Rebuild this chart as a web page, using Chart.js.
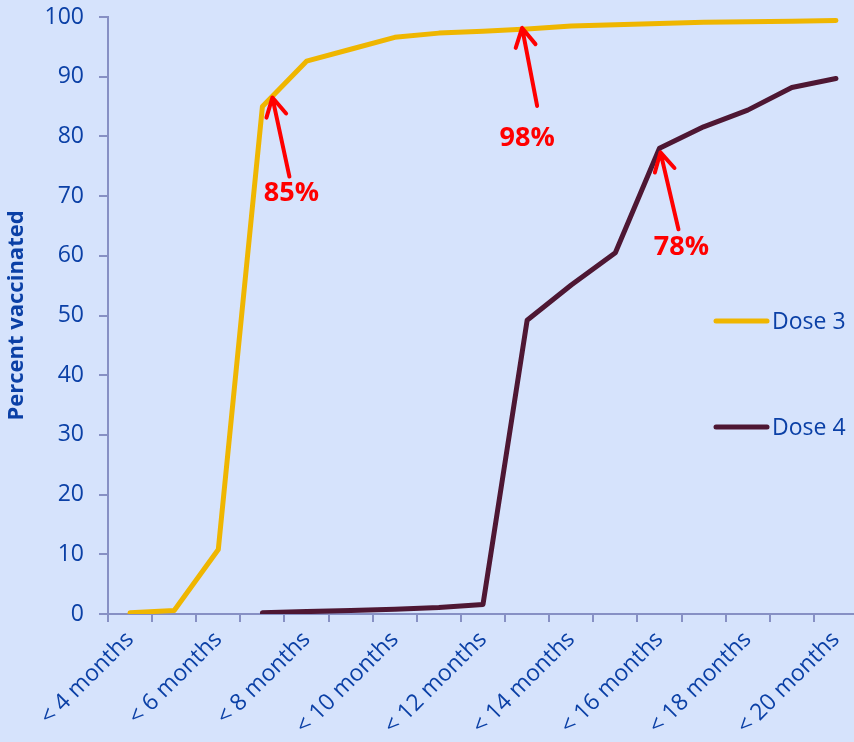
<!DOCTYPE html>
<html>
<head>
<meta charset="utf-8">
<script src="https://cdn.jsdelivr.net/npm/chart.js@4/dist/chart.umd.min.js"></script>
<style>
  html, body { margin: 0; padding: 0; overflow: hidden; background: #d6e3fc; }
  #wrap { position: relative; width: 862px; height: 742px; }
</style>
</head>
<body>
<div id="wrap"><canvas id="c" width="862" height="742"></canvas></div>
<script>
// Age groups (one per month of age)
const months = [
  '< 4 months', '< 5 months', '< 6 months', '< 7 months', '< 8 months',
  '< 9 months', '< 10 months', '< 11 months', '< 12 months', '< 13 months',
  '< 14 months', '< 15 months', '< 16 months', '< 17 months', '< 18 months',
  '< 19 months', '< 20 months'
];

// Cumulative percent vaccinated
const dose3 = [0.2, 0.6, 10.8, 85, 92.6, 94.6, 96.6, 97.3, 97.6, 98, 98.5, 98.7, 98.9, 99.1, 99.2, 99.3, 99.4];
const dose4 = [null, null, null, 0.2, 0.4, 0.6, 0.8, 1.1, 1.6, 49.2, 55.1, 60.5, 78, 81.6, 84.4, 88.2, 89.7];

const seriesNames = ['Dose 3', 'Dose 4'];
const yTicks = [0, 10, 20, 30, 40, 50, 60, 70, 80, 90, 100];

// Callouts: which series / which age group, and the text shown
const calloutSeries = [0, 0, 1];
const calloutIndex = [3, 9, 12];
const calloutText = ['85%', '98%', '78%'];

// Styling
const BG = '#d6e3fc';
const TEXT = '#0b40a6';
const AXIS = '#8790c4';
const GOLD = '#efb600';
const MAROON = '#4e1733';
const RED = '#ff0000';
const FONT = "'Open Sans', 'DejaVu Sans', sans-serif";

// Arrow geometry relative to the pointed-at vertex: tip, tail, label centre
const calloutLayout = [
  { tip: [10, -9], tail: [27, 70], label: [29, 87] },
  { tip: [-5, -1], tail: [10, 77], label: [0, 109] },
  { tip: [1, 4], tail: [19, 81], label: [22, 99] }
];

const backgroundPlugin = {
  id: 'bg',
  beforeDraw(chart) {
    const ctx = chart.ctx;
    ctx.save();
    ctx.fillStyle = BG;
    ctx.fillRect(0, 0, chart.width, chart.height);
    ctx.restore();
  }
};

const calloutPlugin = {
  id: 'callouts',
  afterDatasetsDraw(chart) {
    const ctx = chart.ctx;
    const xs = chart.scales.x, ys = chart.scales.y;
    ctx.save();
    calloutText.forEach((txt, k) => {
      const ds = calloutSeries[k] === 0 ? dose3 : dose4;
      const i = calloutIndex[k];
      const px = xs.getPixelForValue(i);
      const py = ys.getPixelForValue(ds[i]);
      const L = calloutLayout[k];
      const tx = px + L.tip[0], ty = py + L.tip[1];
      const bx = px + L.tail[0], by = py + L.tail[1];
      ctx.strokeStyle = RED;
      ctx.lineWidth = 4;
      ctx.lineCap = 'round';
      ctx.lineJoin = 'round';
      ctx.beginPath();
      ctx.moveTo(bx, by);
      ctx.lineTo(tx, ty);
      const ang = Math.atan2(by - ty, bx - tx);
      const hl = 21, spread = 0.5;
      ctx.moveTo(tx + hl * Math.cos(ang - spread), ty + hl * Math.sin(ang - spread));
      ctx.lineTo(tx, ty);
      ctx.lineTo(tx + hl * Math.cos(ang + spread), ty + hl * Math.sin(ang + spread));
      ctx.stroke();
      ctx.fillStyle = RED;
      ctx.font = "bold 27px " + FONT;
      ctx.textAlign = 'center';
      ctx.textBaseline = 'middle';
      ctx.fillText(txt, px + L.label[0], py + L.label[1]);
    });
    ctx.restore();
  }
};

// Legend drawn inside the plot area, right side
const legendPlugin = {
  id: 'sideLegend',
  afterDraw(chart) {
    const ctx = chart.ctx;
    const colors = [GOLD, MAROON];
    const rows = [321, 427];
    ctx.save();
    seriesNames.forEach((name, k) => {
      const y = rows[k];
      ctx.strokeStyle = colors[k];
      ctx.lineWidth = 5;
      ctx.lineCap = 'round';
      ctx.beginPath();
      ctx.moveTo(716, y);
      ctx.lineTo(767, y);
      ctx.stroke();
      ctx.fillStyle = TEXT;
      ctx.font = "23px " + FONT;
      ctx.textAlign = 'left';
      ctx.textBaseline = 'middle';
      ctx.fillText(name, 772, y + 1);
    });
    ctx.restore();
  }
};

new Chart(document.getElementById('c'), {
  type: 'line',
  data: {
    labels: months,
    datasets: [
      { label: seriesNames[0], data: dose3, borderColor: GOLD, borderWidth: 5, pointRadius: 0, tension: 0, borderCapStyle: 'round', borderJoinStyle: 'round', spanGaps: false },
      { label: seriesNames[1], data: dose4, borderColor: MAROON, borderWidth: 5, pointRadius: 0, tension: 0, borderCapStyle: 'round', borderJoinStyle: 'round', spanGaps: false }
    ]
  },
  options: {
    responsive: false,
    animation: false,
    devicePixelRatio: 1,
    layout: { padding: { top: 17, right: 4, left: 0, bottom: 0 } },
    plugins: { legend: { display: false }, tooltip: { enabled: false } },
    scales: {
      x: {
        type: 'category',
        offset: true,
        grid: { offset: true, drawOnChartArea: false, color: AXIS, lineWidth: 2, tickLength: 8 },
        border: { color: AXIS, width: 2 },
        ticks: {
          autoSkip: false,
          minRotation: 45,
          maxRotation: 45,
          color: TEXT,
          padding: 4,
          font: { family: FONT, size: 23 },
          callback: (v, i) => (i % 2 === 0 ? months[i] : '')
        },
        afterFit: s => { s.height = 128; s.paddingLeft = 0; s.paddingRight = 0; }
      },
      y: {
        min: 0,
        max: 100,
        afterBuildTicks: s => { s.ticks = yTicks.map(v => ({ value: v })); },
        grid: { drawOnChartArea: false, color: AXIS, lineWidth: 2, tickLength: 9 },
        border: { color: AXIS, width: 2 },
        ticks: { color: TEXT, padding: 15, font: { family: FONT, size: 23 } },
        title: {
          display: true,
          text: 'Percent vaccinated',
          color: TEXT,
          font: { family: FONT, size: 22, weight: 'bold' },
          padding: { top: 4, bottom: 0 }
        },
        afterFit: s => { s.width = 108; s.paddingTop = 0; s.paddingBottom = 0; }
      }
    }
  },
  plugins: [backgroundPlugin, calloutPlugin, legendPlugin]
});
</script>
</body>
</html>
